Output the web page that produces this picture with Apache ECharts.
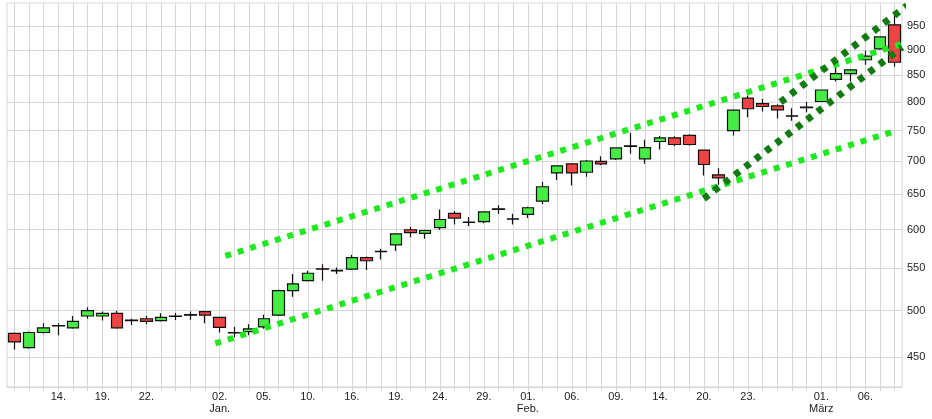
<!DOCTYPE html>
<html><head><meta charset="utf-8">
<script src="https://cdn.jsdelivr.net/npm/echarts@6/dist/echarts.min.js"></script>
<style>html,body{margin:0;padding:0;background:#fff}#c{width:932px;height:419px}</style>
</head><body><div id="c"></div>
<script>
const dates = ['2023-12-11','2023-12-12','2023-12-13','2023-12-14','2023-12-15','2023-12-18','2023-12-19','2023-12-20','2023-12-21','2023-12-22',
'2023-12-26','2023-12-27','2023-12-28','2023-12-29','2024-01-02','2024-01-03','2024-01-04','2024-01-05','2024-01-08','2024-01-09',
'2024-01-10','2024-01-11','2024-01-12','2024-01-16','2024-01-17','2024-01-18','2024-01-19','2024-01-22','2024-01-23','2024-01-24',
'2024-01-25','2024-01-26','2024-01-29','2024-01-30','2024-01-31','2024-02-01','2024-02-02','2024-02-05','2024-02-06','2024-02-07',
'2024-02-08','2024-02-09','2024-02-12','2024-02-13','2024-02-14','2024-02-15','2024-02-16','2024-02-20','2024-02-21','2024-02-22',
'2024-02-23','2024-02-26','2024-02-27','2024-02-28','2024-02-29','2024-03-01','2024-03-04','2024-03-05','2024-03-06','2024-03-07','2024-03-08'];
const open  = [475,460,476,483,481,494,494,497,489,491, 489,493.5,495,499,492.5,476,477,482,495,523, 535,549.5,547.5,549,563.5,571,580,600,595,603,
  622.5,610,611,629,614.5,621,640,682,696,683, 700,704,724,704,732,738,742,718,679,750, 807,797,793,775,790,801,842,853,880,902,952];
const close = [466,476,481,483.5,488,500,497,481,489.5,488, 492.5,494,495.5,495,481.5,475.5,480,491,523,531, 544,549,547,563.5,559.5,571.5,594.5,596,599,614,
  616,610.5,624.5,628,615,630.5,661,693,682,700.5, 696,721.5,725,722,738,727,727,695,674.5,785.5, 788,792,786,775.5,791,822,853,860,887,926.5,875];
const low   = [458,459,475,473,480,491,489,480,484,485, 488,489.5,490,486,476,471,473,480,494,516, 534,535,543,548,548,561,572,590,588,600,
  607,605,609,622,607,616,636,671,663,676, 694,702,712,696,719,724,725,678,664,742, 773,783,771,767,782,800,838,838,870,900,866];
const high  = [476,477,486,486,494,504,499,500,491,494, 497,497.5,499,500,493,482,485,495.5,524,543, 547,555,551,567,565,575,595,604,600,628,
  626,617,625,634,622,632,668,694,697,702, 708,722.5,746,735,741,740.5,744,719,689,787, 812,806,796,789,800,823,875,862,898,928,975];

const labeledDates = ['2023-12-14','2023-12-19','2023-12-22','2024-01-02','2024-01-05','2024-01-10','2024-01-16','2024-01-19','2024-01-24',
  '2024-01-29','2024-02-01','2024-02-06','2024-02-09','2024-02-14','2024-02-20','2024-02-23','2024-03-01','2024-03-06'];
const monthStarts = {'2024-01-02':'Jan.','2024-02-01':'Feb.','2024-03-01':'März'};
const yTicks = [450,500,550,600,650,700,750,800,850,900,950];

// trend lines: [category position, price]
const trendLightUpper = [[14.38,565.6],[60.74,914.4]];
const trendLightLower = [[13.7,464.4],[60.17,750.5]];
const trendDarkLower  = [[46.99,643.6],[60.51,905.3]];
const trendDarkUpper  = [[52.22,799.9],[60.85,994.4]];

const L = v => Math.log10(v);
const candles = dates.map((d,i)=>[L(open[i]),L(close[i]),L(low[i]),L(high[i])]);
const tl = arr => arr.map(p=>[p[0], L(p[1])]);
const font = 'Liberation Sans, Arial, sans-serif';
const gridC = '#d6d6d6';

function trend(data, color, width){
  return {type:'line', xAxisIndex:1, yAxisIndex:0, data:tl(data), symbol:'none', clip:false, z:5, silent:true,
    lineStyle:{color:color, width:width, type:[6,7], cap:'butt'}};
}
function gridSeries(data){
  return {type:'line', data:[], xAxisIndex:0, yAxisIndex:0, z:0, silent:true,
    markLine:{silent:true, z:0, symbol:'none', precision:10, animation:false, label:{show:false},
      lineStyle:{color:gridC, type:'solid', width:1}, emphasis:{disabled:true}, data:data}};
}

const chart = echarts.init(document.getElementById('c'), null, {renderer:'canvas'});
chart.setOption({
  animation:false,
  backgroundColor:'#fff',
  grid:{left:7, right:30, top:3, bottom:32, show:true, borderColor:gridC, borderWidth:1},
  xAxis:[{
    type:'category', data:dates, boundaryGap:true,
    axisLine:{lineStyle:{color:gridC}},
    axisTick:{show:true, interval:0, alignWithLabel:true, length:4, lineStyle:{color:gridC}},
    splitLine:{show:false},
    axisLabel:{
      interval:(idx,val)=>labeledDates.includes(val),
      margin:4, fontSize:11, lineHeight:12, color:'#222', fontFamily:font,
      formatter:v=>{const d=v.slice(8,10)+'.'; return monthStarts[v]? d+'\n'+monthStarts[v] : d;}
    }
  },{
    type:'value', min:-0.5, max:60.5, show:false, splitLine:{show:false}
  }],
  yAxis:{
    type:'value', position:'right', min:L(421), max:L(1000), scale:true,
    axisLine:{show:false},
    axisTick:{show:false},
    splitLine:{show:false},
    axisLabel:{customValues:yTicks.map(L), margin:5, fontSize:11, color:'#222', fontFamily:font,
      formatter:v=>String(Math.round(Math.pow(10,v)))}
  },
  series:[
  gridSeries(yTicks.map(v=>({yAxis:L(v)}))),
  gridSeries(dates.map(d=>({xAxis:d}))),
  {
    type:'candlestick', data:candles, barWidth:12, z:2,
    itemStyle:{color:'#44ec44', color0:'#ee4444', borderColor:'#111', borderColor0:'#111', borderColorDoji:'#111', borderWidth:1.2}
  },
  trend(trendLightUpper,'#1ee81e',6),
  trend(trendLightLower,'#1ee81e',6),
  trend(trendDarkLower,'#127a12',7),
  trend(trendDarkUpper,'#127a12',7)
  ]
});
</script></body></html>
